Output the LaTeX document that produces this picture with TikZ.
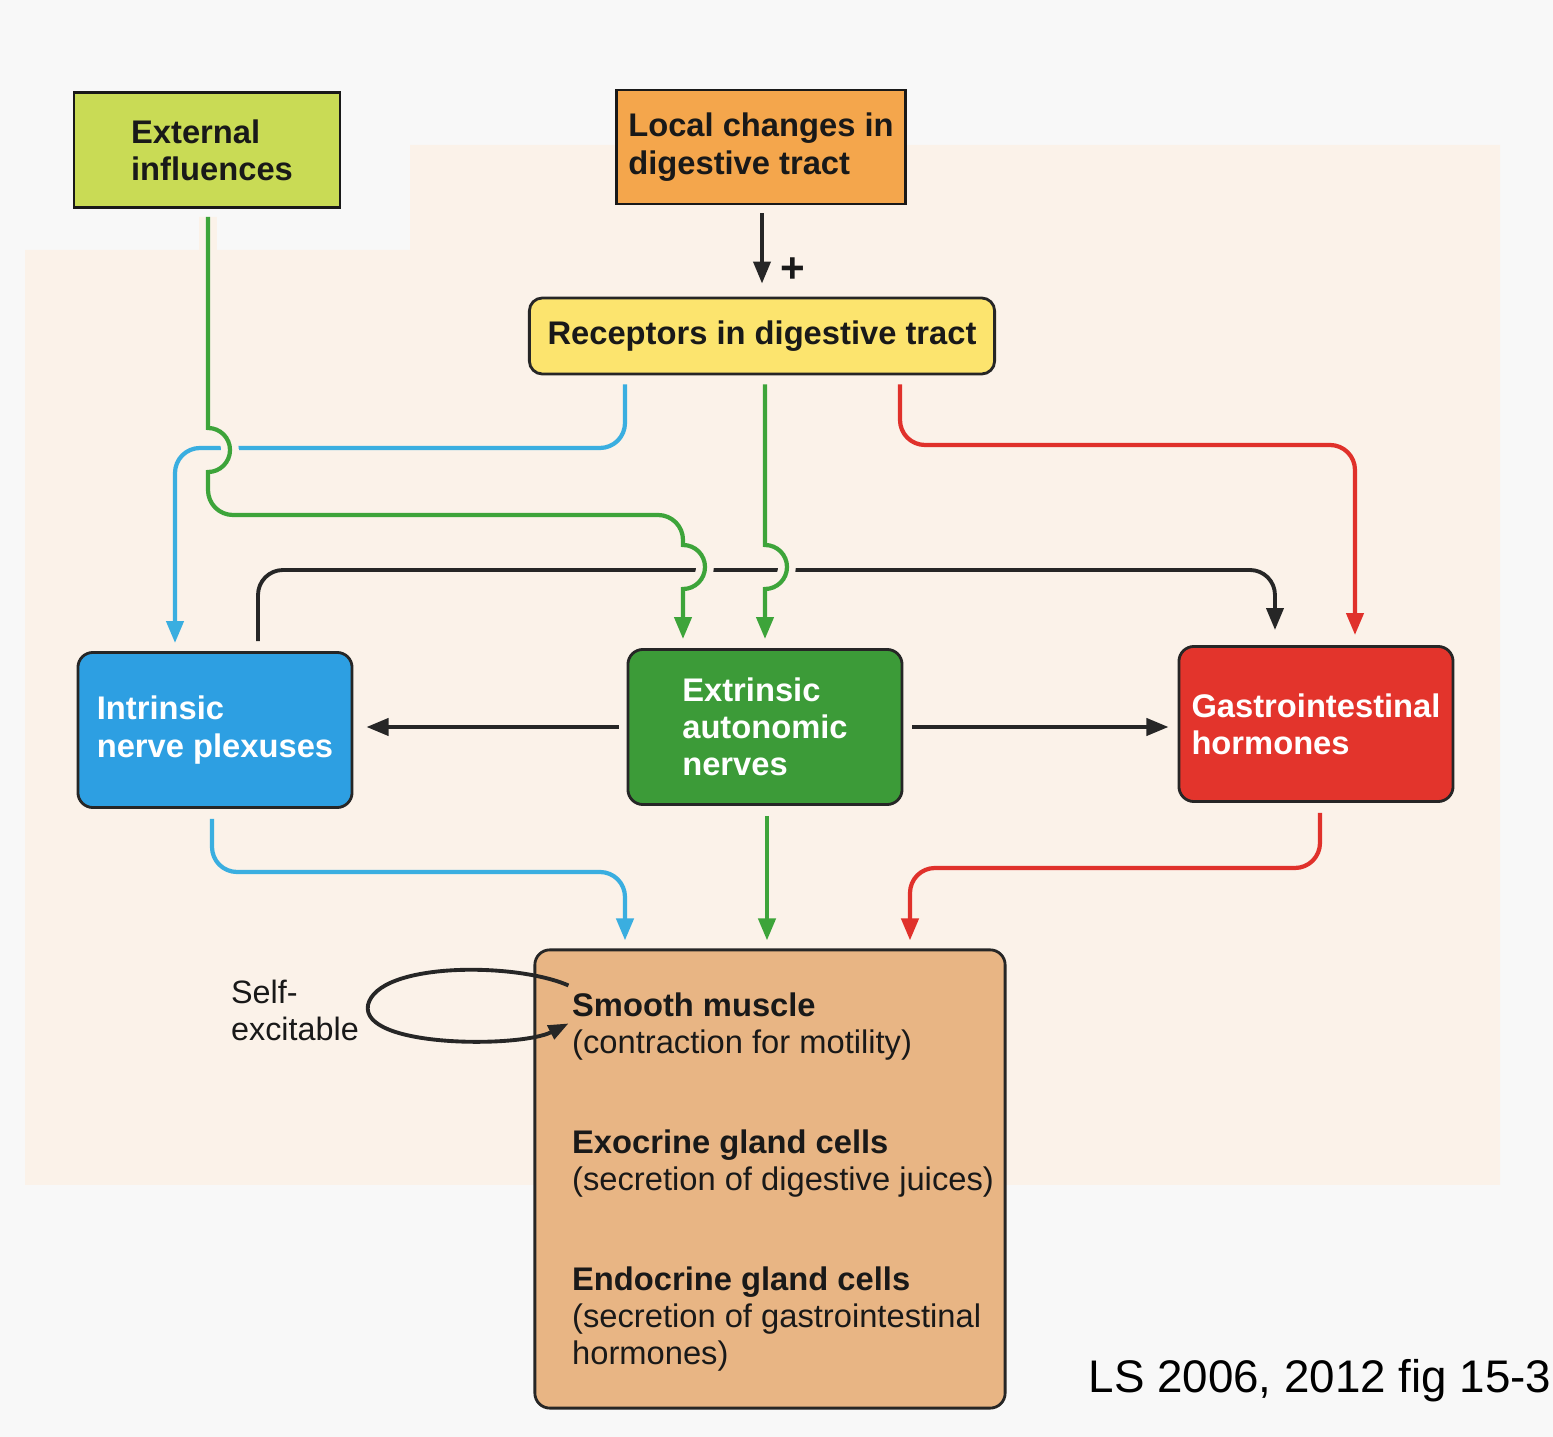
\documentclass[tikz,border=0pt]{standalone}
\usepackage{fontspec}
\setmainfont{Liberation Sans}
\usetikzlibrary{arrows.meta,calc}

\definecolor{pagecol}{HTML}{F8F8F8}
\definecolor{peachcol}{HTML}{FBF2E9}
\definecolor{extcol}{HTML}{C9DB55}
\definecolor{loccol}{HTML}{F4A64C}
\definecolor{reccol}{HTML}{FCE46E}
\definecolor{intcol}{HTML}{2D9FE2}
\definecolor{autcol}{HTML}{3C9B38}
\definecolor{gicol}{HTML}{E3342C}
\definecolor{effcol}{HTML}{E8B584}
\definecolor{bluecol}{HTML}{3AAEE0}
\definecolor{greencol}{HTML}{3DA43A}
\definecolor{redcol}{HTML}{E0312B}

\begin{document}
\begin{tikzpicture}[x=0.01cm,y=-0.01cm,
        srcbox/.style={draw=black!90, line width=0.8pt, text=black!90, align=left,
            font=\fontsize{9.3}{10.6}\selectfont\bfseries},
        box/.style={draw=black!85, line width=0.8pt, rounded corners=0.15cm, text=white, align=left,
            minimum width=2.74cm, minimum height=1.55cm, font=\fontsize{9.3}{10.6}\selectfont\bfseries},
        tip/.style={-{Triangle[length=0.22cm,width=0.17cm]}},
        hop/.style={preaction={draw=peachcol, line width=5pt, -}},
        bline/.style={draw=bluecol, line width=1.2pt, rounded corners=0.25cm, tip},
        gline/.style={draw=greencol, line width=1.2pt, tip},
        rline/.style={draw=redcol, line width=1.2pt, rounded corners=0.25cm, tip},
        kline/.style={draw=black!85, line width=1.1pt, rounded corners=0.25cm, tip}]
        \useasboundingbox (0,0) rectangle (1553,1437);
        \fill[pagecol] (0,0) rectangle (1553,1437);
        \fill[peachcol] (25,250) -- (410,250) -- (410,145) -- (1500,145) -- (1500,1185) -- (25,1185) -- cycle;

        \node[srcbox, fill=extcol, minimum width=2.66cm, minimum height=1.15cm] (ext) at (207,150) {\hspace*{0.1cm}External\\\hspace*{0.1cm}influences};
        \node[srcbox, fill=loccol, minimum width=2.83cm, minimum height=1.14cm] (loc) at (761,147) {Local changes in\\digestive tract};
        \node[box, fill=reccol, text=black!90, minimum width=4.65cm, minimum height=0.76cm, rounded corners=0.13cm] (rec) at (762,336) {Receptors in digestive tract};
        \node[box, fill=intcol] (int) at (215,730) {Intrinsic\\nerve plexuses};
        \node[box, fill=autcol] (aut) at (765,727) {Extrinsic\\autonomic\\nerves};
        \node[box, fill=gicol] (gi) at (1316,724) {Gastrointestinal\\hormones};
        \node[box, fill=effcol, minimum width=4.7cm, minimum height=4.58cm] (eff) at (770,1179) {};
        \node[anchor=west, align=left, text=black!90, inner sep=0pt, font=\fontsize{9.3}{10.5}\selectfont] (efflist) at ($(eff.west)+(38,3)$)
            {\textbf{Smooth muscle}\\(contraction for motility)\\[0.63cm]\textbf{Exocrine gland cells}\\(secretion of digestive juices)\\[0.63cm]\textbf{Endocrine gland cells}\\(secretion of gastrointestinal\\hormones)};
        \node[align=left, text=black!90, font=\fontsize{9.2}{10.5}\selectfont] (self) at (295,1010) {Self-\\excitable};
        \node[font=\fontsize{12}{14}\selectfont\bfseries, text=black!90] (plus) at (793,270) {+};
        \node[anchor=base west, inner sep=0pt, font=\fontsize{13}{15}\selectfont] (cap) at (1088,1393) {LS 2006, 2012 fig 15-3};

        \draw[kline] ($(loc.south)+(1,8)$) -- ($(rec.north)+(0,-13)$);
        \draw[kline] ($(int.north)+(43,-10)$) -- (258,570) -- (1275,570) -- ($(gi.north)+(-41,-15)$);
        \draw[kline, shorten <=0.08cm, shorten >=0.13cm] (aut.west) -- (aut.west -| int.east);
        \draw[kline, shorten <=0.09cm, shorten >=0.09cm] (aut.east) -- (aut.east -| gi.west);
        \draw[bline] ($(rec.south)+(-137,9)$) -- (625,448) -- (175,448) -- ($(int.north)+(-40,-8)$);
        \draw[gline, hop] ($(ext.south)+(1,8)$) -- (208,428) arc[start angle=90, end angle=-90, radius=0.22cm] -- (208,490) arc[start angle=180, end angle=270, radius=0.25cm] -- (658,515) arc[start angle=90, end angle=0, radius=0.25cm] -- (683,545) arc[start angle=90, end angle=-90, radius=0.22cm] -- ($(aut.north)+(-82,-9)$);
        \draw[gline, hop] ($(rec.south)+(3,9)$) -- (765,545) arc[start angle=90, end angle=-90, radius=0.22cm] -- ($(aut.north)+(0,-9)$);
        \draw[rline] ($(rec.south)+(138,9)$) -- (900,445) -- (1355,445) -- ($(gi.north)+(39,-10)$);
        \draw[bline] ($(int.south)+(-3,10)$) -- (212,872) -- (625,872) -- ($(eff.north)+(-145,-8)$);
        \draw[gline] ($(aut.south)+(2,10)$) -- ($(eff.north)+(-3,-8)$);
        \draw[rline] ($(gi.south)+(4,10)$) -- (1320,868) -- (910,868) -- ($(eff.north)+(140,-8)$);
        \draw[black!85, line width=1.1pt, -{Triangle[length=0.2cm,width=0.15cm]}] ($(eff.north west)+(35,37)$) .. controls (515,962) and (378,962) .. (368,1005) .. controls (360,1048) and (520,1048) .. ($(eff.north west)+(35,75)$);
\end{tikzpicture}
\end{document}
